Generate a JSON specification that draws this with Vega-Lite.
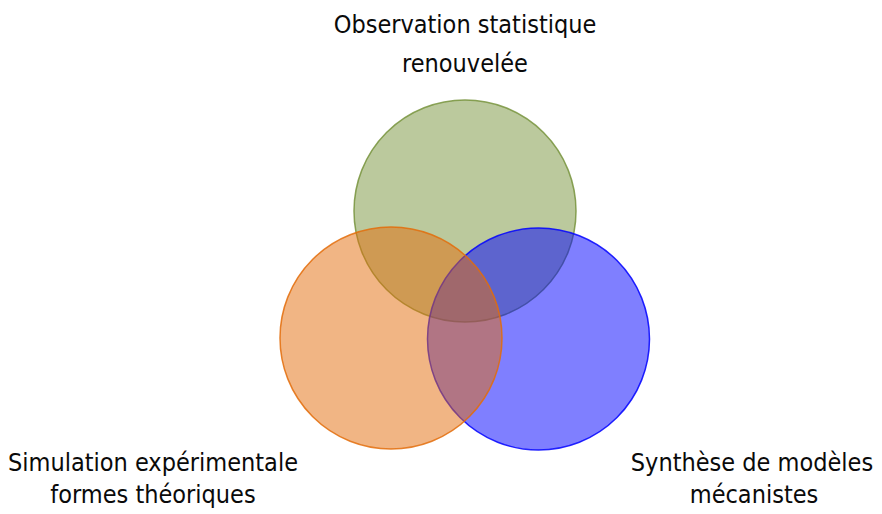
{
  "$schema": "https://vega.github.io/schema/vega-lite/v6.json",
  "width": 882,
  "height": 514,
  "autosize": {"type": "fit", "contains": "padding"},
  "padding": 0,
  "background": "white",
  "config": {"view": {"stroke": null}},
  "datasets": {
    "circles": [
      {"set": "Observation", "cx": 465, "cy": 211},
      {"set": "Synthèse", "cx": 538.5, "cy": 339},
      {"set": "Simulation", "cx": 391, "cy": 338}
    ],
    "labels": [
      {"text": "Observation statistique", "lx": 465, "ly": 25},
      {"text": "renouvelée", "lx": 465, "ly": 64},
      {"text": "Simulation expérimentale", "lx": 153, "ly": 463},
      {"text": "formes théoriques", "lx": 153, "ly": 495},
      {"text": "Synthèse de modèles", "lx": 752, "ly": 463},
      {"text": "mécanistes", "lx": 754, "ly": 495}
    ]
  },
  "layer": [
    {
      "data": {"name": "circles"},
      "mark": {"type": "point", "shape": "circle", "filled": true, "size": 49284, "fillOpacity": 0.5, "strokeWidth": 1.5, "strokeOpacity": 0.85},
      "encoding": {
        "x": {"field": "cx", "type": "quantitative", "scale": {"domain": [0, 882]}, "axis": null},
        "y": {"field": "cy", "type": "quantitative", "scale": {"domain": [0, 514], "reverse": true}, "axis": null},
        "fill": {"field": "set", "type": "nominal", "scale": {"domain": ["Observation", "Synthèse", "Simulation"], "range": ["#77933C", "#0000FF", "#E36C09"]}, "legend": null},
        "stroke": {"field": "set", "type": "nominal", "scale": {"domain": ["Observation", "Synthèse", "Simulation"], "range": ["#77933C", "#0000FF", "#E36C09"]}, "legend": null}
      }
    },
    {
      "data": {"name": "labels"},
      "mark": {"type": "text", "font": "DejaVu Sans Condensed, Liberation Sans, sans-serif", "fontSize": 25, "baseline": "middle", "align": "center", "color": "#0a0a0a"},
      "encoding": {
        "x": {"field": "lx", "type": "quantitative", "scale": {"domain": [0, 882]}, "axis": null},
        "y": {"field": "ly", "type": "quantitative", "scale": {"domain": [0, 514], "reverse": true}, "axis": null},
        "text": {"field": "text"}
      }
    }
  ]
}
